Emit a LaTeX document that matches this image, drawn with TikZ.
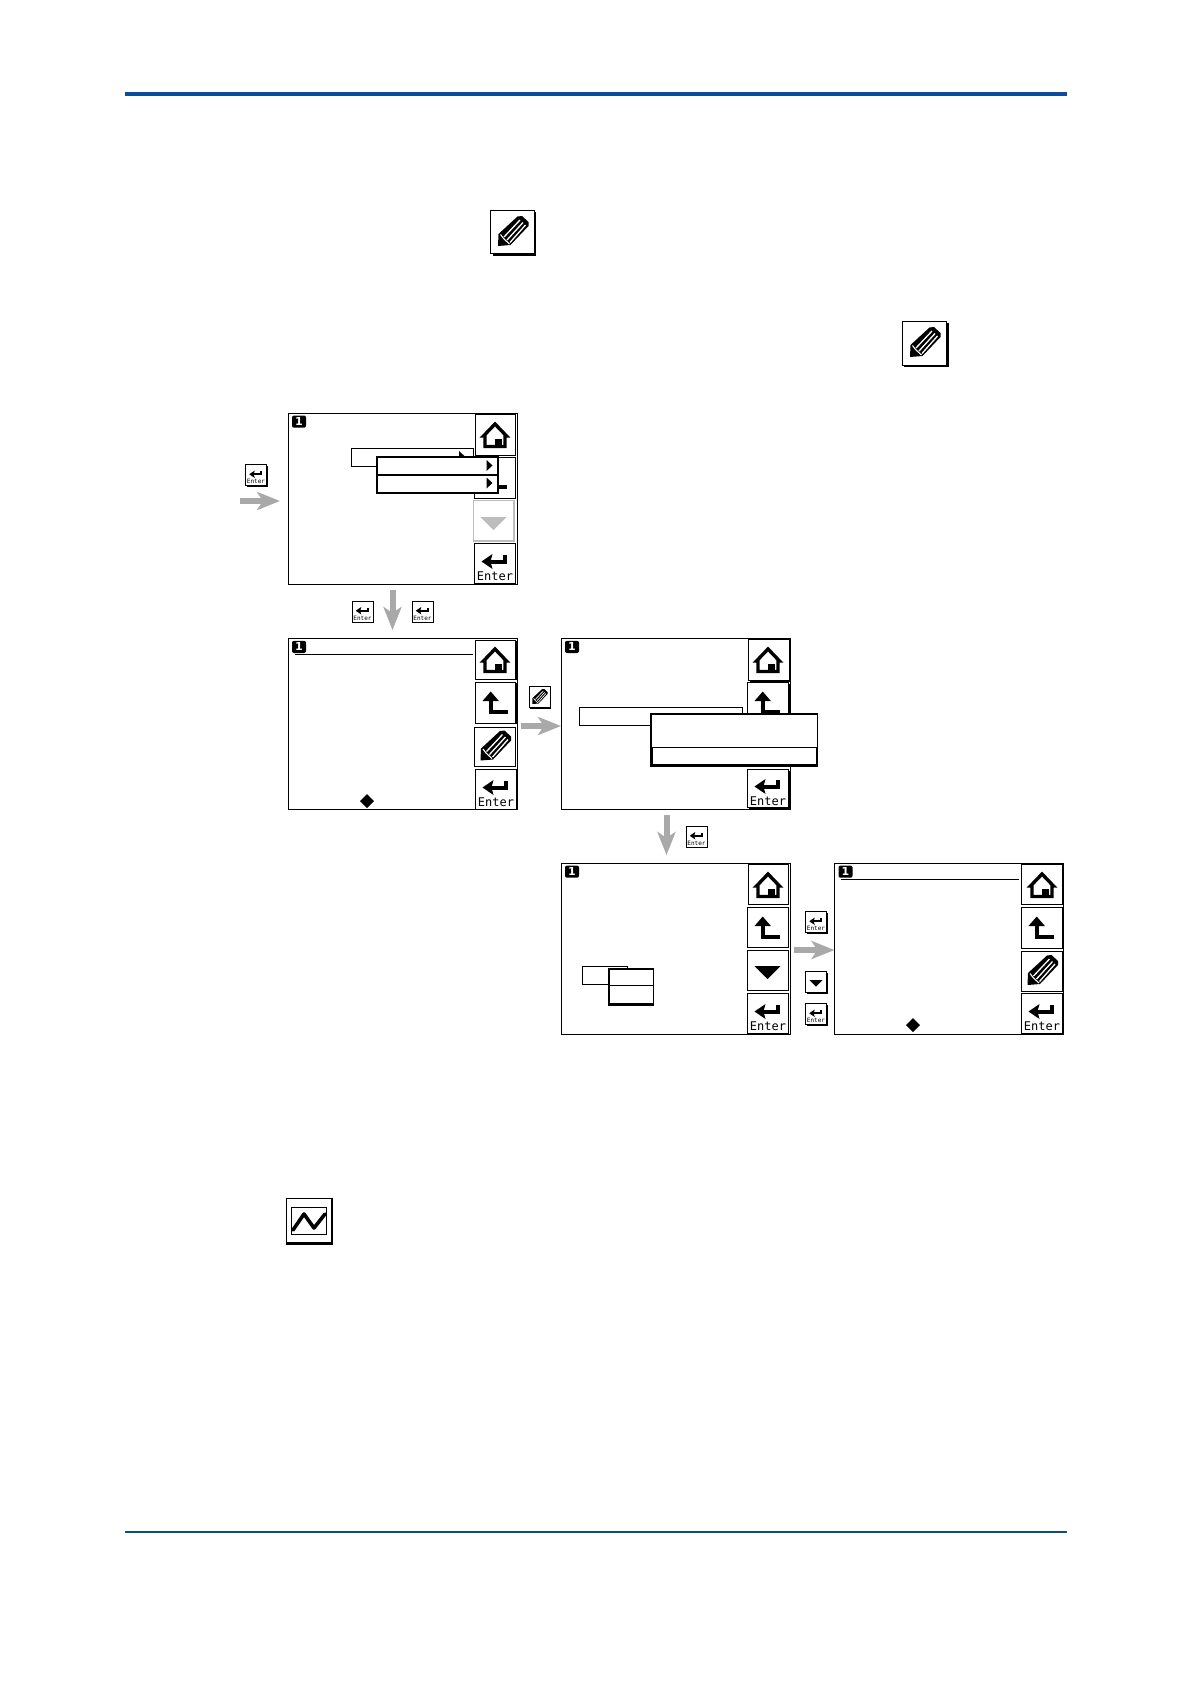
\documentclass[tikz,border=0pt]{standalone}
\usepackage{fontspec}
\setmonofont{DejaVu Sans Mono}
\setsansfont{DejaVu Sans}
\usetikzlibrary{arrows.meta}
\definecolor{rule}{HTML}{0B4C9B}
\definecolor{rulebot}{HTML}{0F4C81}
\definecolor{flowgray}{HTML}{A9A9A9}
\definecolor{offgray}{HTML}{BDBDBD}
\newcounter{lbl}
\tikzset{
  screen/.style={draw=black,fill=white,line width=1pt,rectangle,minimum width=229pt,minimum height=171pt,inner sep=0pt,outer sep=0pt},
  flow/.style={draw=flowgray,line width=6pt,-{Stealth[length=23pt,width=18pt,inset=6pt]}},
  thinbox/.style={draw=black,fill=white,line width=.9pt},
  popbox/.style={draw=black,fill=white,line width=2pt},
  tri/.style={fill=black,draw=none},
}
% button frame: x0 y0 x1 y1 shadow
\newcommand\frm[5]{%
  \fill[black] (#1+#5,#2+#5) rectangle (#3+#5,#4+#5);
  \draw[draw=black,fill=white,line width=.8pt] (#1,#2) rectangle (#3,#4);}
% icons at centre cx cy scale s colour c
\newcommand\ichome[3]{\begin{scope}[shift={(#1,#2)},scale=#3]
  \draw[line width=#3*3.4pt,line join=miter] (-10,11.5)--(-10,1)--(-11.5,1)--(0,-11)--(11.5,1)--(10,1)--(10,11.5)--cycle;
  \fill (0,4) rectangle (7,11.5);
\end{scope}}
\newcommand\icback[3]{\begin{scope}[shift={(#1,#2)},scale=#3]
  \fill (-13.5,-1)--(-5.3,-10.5)--(2.9,-1)--cycle;
  \draw[line width=#3*4pt] (-5.3,-2)--(-5.3,10)--(12,10);
\end{scope}}
\newcommand\icenter[3]{\begin{scope}[shift={(#1,#2)},scale=#3]
  \fill (-13.5,-1.5)--(-2.5,-9)--(-4.5,-1.5)--(-2.5,6)--cycle;
  \draw[line width=#3*4pt] (-5,-1.5)--(10,-1.5)--(10,-8);
  \stepcounter{lbl}
  \pgfmathsetmacro\fsz{#3*12}
  \node[inner sep=0pt] (t\arabic{lbl}) at (0,13.2) {\ttfamily\fontsize{\fsz}{\fsz}\selectfont Enter};
\end{scope}}
\newcommand\icdown[4]{\begin{scope}[shift={(#1,#2)},scale=#3]
  \fill[#4] (-13,-4)--(13,-4)--(0,9)--cycle;
\end{scope}}
\newcommand\icpencil[3]{\begin{scope}[shift={(#1,#2)},scale=#3]
  \fill (-14.5,14)--(-14,2)--(5,-15.5)--(9.5,-16)--(16,-10)--(16,-6)--(-2,13)--cycle;
  \draw[white,line width=#3*1.3pt] (-8.5,5)--(7.5,-12);
  \draw[white,line width=#3*1.3pt] (-5.5,8)--(10.5,-9.5);
  \draw[white,line width=#3*1.3pt] (-2.5,10.5)--(13,-7);
  \draw[white,line width=#3*1.1pt] (-12,2.5)--(-9,6.5)--(-3,12);
\end{scope}}
\newcommand\scrbadge[2]{\begin{scope}[shift={(#1,#2)}]
  \fill[rounded corners=2pt] (4,2.5) rectangle (18,14.7);
  \stepcounter{lbl}
  \node[white,inner sep=0pt] (t\arabic{lbl}) at (11,8.6) {\sffamily\bfseries\fontsize{11}{11}\selectfont 1};
\end{scope}}
\newcommand\smallbtn[2]{\frm{#1-10.5}{#2-10.5}{#1+10.5}{#2+10.5}{1.2}}
\begin{document}
\begin{tikzpicture}[x=1pt,y=-1pt]
\useasboundingbox (0,0) rectangle (1191,1684);
\fill[white] (0,0) rectangle (1191,1684);
% page rules
\fill[rule] (125,92) rectangle (1066.5,96);
\fill[rulebot] (125,1531) rectangle (1066.5,1533);
% page icons
\frm{490.5}{210}{534}{253.5}{2}\icpencil{512.5}{232}{1}
\frm{902}{321}{946.5}{365}{2}\icpencil{924.5}{343}{1}
\fill (286,1198) rectangle (332.5,1245);
\draw[draw=black,fill=white,line width=.8pt] (286,1198) rectangle (331.5,1242);
\draw[line width=.9pt] (291,1207) rectangle (326,1234);
\draw[line width=3.6pt,line join=round,line cap=round] (293,1230)--(304,1214)--(314,1228)--(325,1214);

% SCREEN 1
\node[screen,anchor=north west] (s1) at (288,413) {};
\scrbadge{288}{413}
\frm{475}{414}{515}{455}{1.2}\ichome{495}{435}{1}
\frm{474}{457}{515}{498}{1.2}\icback{495}{477}{1}
\draw[draw=offgray,fill=white,line width=1.2pt] (473.5,500.5) rectangle (514,541);
\icdown{493.5}{521}{1}{offgray}
\frm{474}{543}{515}{583}{1.2}\icenter{495}{563}{1}
\draw[thinbox] (351,448) rectangle (473,466);
\fill[tri] (459,451)--(465,456.5)--(459,462)--cycle;
\draw[popbox] (377,457) rectangle (498,492.5);
\draw[line width=2pt] (377,475)--(498,475);
\fill[tri] (486.5,460)--(492.5,465.5)--(486.5,471)--cycle;
\fill[tri] (486.5,477.5)--(492.5,483)--(486.5,488.5)--cycle;

% SCREEN 2
\node[screen,anchor=north west] (s2) at (288,638.3) {};
\scrbadge{288}{638.3}
\draw[line width=1pt] (295,654.3)--(473,654.3);
\frm{475}{640}{515.5}{679}{1.2}\ichome{495}{660}{1}
\frm{475}{682}{515.5}{723}{1.2}\icback{496}{702}{1}
\frm{474.5}{727}{515}{766}{1.2}\icpencil{495}{746.5}{1}
\frm{475}{769}{516}{809}{1}\icenter{496}{789}{1}
\fill (367,794)--(374,801)--(367,808)--(360,801)--cycle;

% SCREEN 3
\node[screen,anchor=north west] (s3) at (561,638.3) {};
\scrbadge{561}{638.3}
\frm{748}{639.5}{789}{680}{1.5}\ichome{768}{660}{1}
\frm{747.5}{682}{788}{723}{1.5}\icback{768}{702}{1}
\frm{747.5}{769}{788}{807}{1.8}\icenter{768}{788}{1}
\draw[thinbox] (579,707) rectangle (742,725);
\fill (650,713) rectangle (817.5,767);
\fill[white] (652,715) rectangle (816.8,747);
\draw[draw=black,fill=white,line width=.9pt] (652,747) rectangle (816,764);

% SCREEN 4
\node[screen,anchor=north west] (s4) at (561,863) {};
\scrbadge{561}{863}
\frm{748}{864.5}{788}{904}{1.2}\ichome{768}{885}{1}
\frm{747}{907}{788}{947}{1.2}\icback{768}{927}{1}
\frm{747}{950}{788}{990}{1.2}\icdown{767.5}{970}{1}{black}
\frm{747}{993}{788}{1033}{1}\icenter{768}{1013}{1}
\draw[thinbox] (582,966) rectangle (627,984);
\fill (608,968) rectangle (654,1006);
\fill[white] (609.5,970) rectangle (652.5,985);
\fill[white] (609.5,986) rectangle (652.5,1002.5);
\draw[line width=.9pt] (609,985.3)--(653,985.3);

% SCREEN 5
\node[screen,anchor=north west] (s5) at (834.5,863) {};
\scrbadge{834.5}{863}
\draw[line width=1pt] (841,879)--(1019,879);
\frm{1021.5}{864.5}{1062}{904}{1.2}\ichome{1042}{885}{1}
\frm{1021.5}{907}{1062}{948}{1.2}\icback{1042}{927}{1}
\frm{1021.5}{951}{1062}{991}{1.2}\icpencil{1042}{971}{1}
\frm{1021.5}{993}{1062}{1033}{1}\icenter{1042}{1013}{1}
\fill (913,1018)--(920,1025)--(913,1032)--(906,1025)--cycle;

% small key icons
\smallbtn{256}{475}\icenter{256}{475}{.5}
\smallbtn{362.5}{611.5}\icenter{362.5}{611.5}{.5}
\smallbtn{422.5}{611.5}\icenter{422.5}{611.5}{.5}
\smallbtn{539.5}{697}\icpencil{539.5}{697}{.5}
\smallbtn{696.5}{836.5}\icenter{696.5}{836.5}{.5}
\smallbtn{816}{922}\icenter{816}{922}{.5}
\smallbtn{816}{982}\icdown{816}{982}{.5}{black}
\smallbtn{816}{1014}\icenter{816}{1014}{.5}

% flow arrows
\coordinate (a1s) at (240,501);
\coordinate (a1e) at (280,501);
\draw[flow] (a1s) -- (a1e);
\coordinate (a2s) at (392.5,590);
\coordinate (a2e) at (392.5,630);
\draw[flow] (a2s) -- (a2e);
\coordinate (a3s) at (521,726);
\coordinate (a3e) at (s3.west |- a3s);
\draw[flow] (a3s) -- (a3e);
\coordinate (a4s) at (666.5,815);
\coordinate (a4e) at (666.5,855);
\draw[flow] (a4s) -- (a4e);
\coordinate (a5s) at (794,950);
\coordinate (a5e) at (s5.west |- a5s);
\draw[flow] (a5s) -- (a5e);
\end{tikzpicture}
\end{document}
